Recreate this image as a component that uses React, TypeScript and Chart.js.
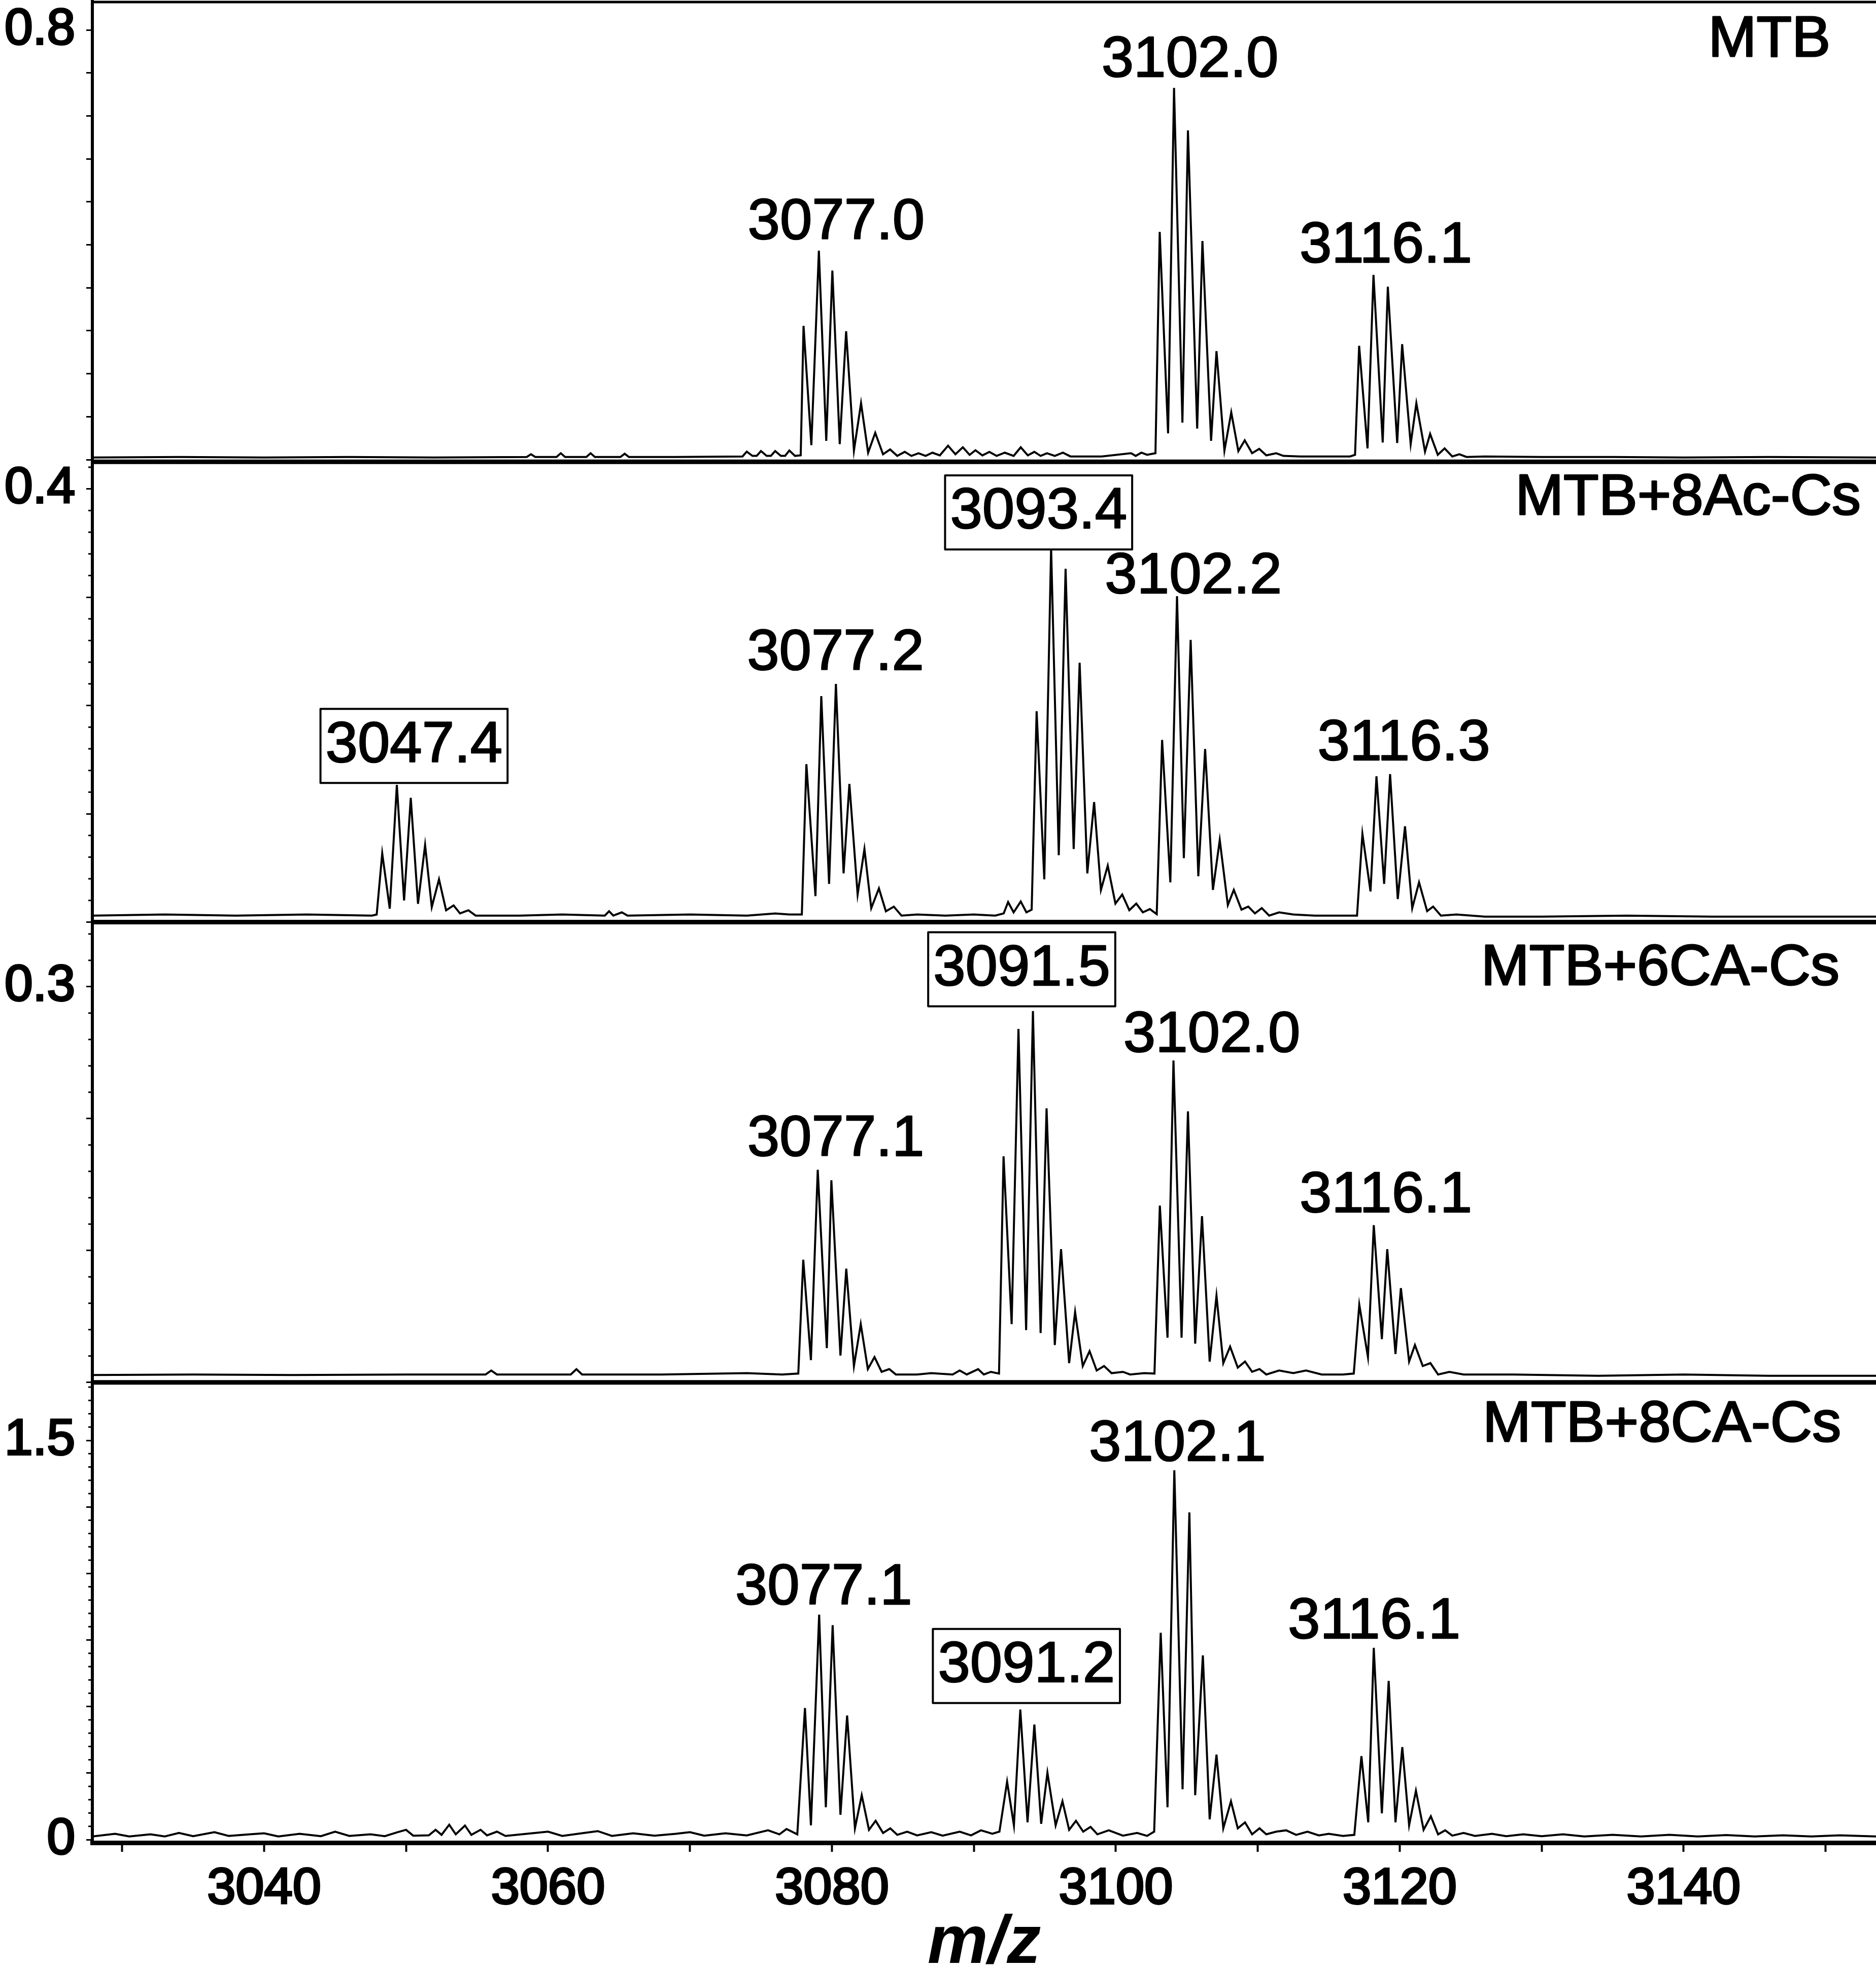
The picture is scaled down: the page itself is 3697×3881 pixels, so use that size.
import React, { useEffect, useRef } from 'react';
import { Chart, registerables } from 'chart.js';

Chart.register(...registerables);

const FONT = '"Liberation Sans", Arial, Helvetica, sans-serif';

// ---------- x axis ----------
const mzMin = 3027.9;
const mzMax = 3153.55;
const xTickValues = [3030, 3040, 3050, 3060, 3070, 3080, 3090, 3100, 3110, 3120, 3130, 3140, 3150];
const xTickLabeled = [3040, 3060, 3080, 3100, 3120, 3140];

// ---------- panel names ----------
const panelNames = ['MTB', 'MTB+8Ac-Cs', 'MTB+6CA-Cs', 'MTB+8CA-Cs'];
const panelNameMz = [3150.34, 3152.48, 3150.98, 3151.09];
const panelNameIntensity = [0.781, 0.391, 0.3134, 1.557];

// ---------- y axes (one per panel) ----------
const yMin = [-0.004, 0, 0, -0.0114];
const yMax = [0.8529, 0.425, 0.349, 1.7178];
const yMajorTicks1 = [0, 0.08, 0.16, 0.24, 0.32, 0.4, 0.48, 0.56, 0.64, 0.72, 0.8];
const yMinorTicks1: number[] = [];
const yLabeled1 = [0.8];
const yMajorTicks2 = [0, 0.1, 0.2, 0.3, 0.4];
const yMinorTicks2 = [0.02, 0.04, 0.06, 0.08, 0.12, 0.14, 0.16, 0.18, 0.22, 0.24, 0.26, 0.28, 0.32, 0.34, 0.36, 0.38, 0.42];
const yLabeled2 = [0.4];
const yMajorTicks3 = [0, 0.1, 0.2, 0.3];
const yMinorTicks3 = [0.02, 0.04, 0.06, 0.08, 0.12, 0.14, 0.16, 0.18, 0.22, 0.24, 0.26, 0.28, 0.32, 0.34];
const yLabeled3 = [0.3];
const yMajorTicks4 = [0, 0.25, 0.5, 0.75, 1.0, 1.25, 1.5];
const yMinorTicks4 = [0.05, 0.1, 0.15, 0.2, 0.3, 0.35, 0.4, 0.45, 0.55, 0.6, 0.65, 0.7, 0.8, 0.85, 0.9, 0.95, 1.05, 1.1, 1.15, 1.2, 1.3, 1.35, 1.4, 1.45, 1.55, 1.6, 1.65, 1.7];
const yLabeled4 = [1.5, 0];

// ---------- spectra: [m/z, intensity] ----------
const mtbSpectrum: [number, number][] = [
  [3027.9, 0.004], [3034.0, 0.005], [3040.0, 0.004], [3046.0, 0.005], [3052.0, 0.004],
  [3058.5, 0.005], [3058.8, 0.010], [3059.1, 0.005], [3060.6, 0.005], [3060.9, 0.012], [3061.2, 0.005],
  [3062.7, 0.005], [3063.0, 0.012], [3063.3, 0.005], [3065.1, 0.005], [3065.4, 0.011], [3065.7, 0.005],
  [3069.0, 0.005], [3073.7, 0.006], [3074.0, 0.015], [3074.4, 0.007], [3074.7, 0.007], [3075.0, 0.016],
  [3075.4, 0.007], [3075.7, 0.007], [3076.0, 0.016], [3076.4, 0.007], [3076.7, 0.007], [3077.0, 0.017],
  [3077.4, 0.007], [3077.8, 0.008],
  [3078.0, 0.249], [3078.55, 0.027], [3079.08, 0.389], [3079.6, 0.035], [3080.03, 0.352], [3080.55, 0.029],
  [3081.0, 0.239], [3081.55, 0.017], [3082.05, 0.105], [3082.55, 0.013], [3083.05, 0.050], [3083.6, 0.010],
  [3084.1, 0.019], [3084.6, 0.007],
  [3085.13, 0.0145], [3085.6, 0.007], [3086.1, 0.012], [3086.6, 0.007], [3087.08, 0.013], [3087.6, 0.008],
  [3088.18, 0.026], [3088.7, 0.010], [3089.22, 0.023], [3089.7, 0.009], [3090.11, 0.0175], [3090.6, 0.008],
  [3091.09, 0.0145], [3091.6, 0.007], [3092.18, 0.013], [3092.8, 0.007], [3093.3, 0.023], [3093.8, 0.008],
  [3094.26, 0.0145], [3094.7, 0.007], [3095.15, 0.012], [3095.7, 0.007], [3096.27, 0.013], [3096.8, 0.006],
  [3099.0, 0.006], [3101.07, 0.012], [3101.4, 0.007], [3101.8, 0.013], [3102.2, 0.009], [3102.79, 0.012],
  [3103.09, 0.424], [3103.68, 0.049], [3104.1, 0.692], [3104.69, 0.069], [3105.08, 0.613], [3105.73, 0.058],
  [3106.1, 0.407], [3106.71, 0.035], [3107.09, 0.202], [3107.65, 0.017], [3108.13, 0.088], [3108.63, 0.016],
  [3109.08, 0.036], [3109.6, 0.012], [3110.1, 0.020], [3110.6, 0.008],
  [3111.3, 0.012], [3111.8, 0.007], [3113.0, 0.006], [3115.0, 0.006], [3116.5, 0.006], [3116.85, 0.009],
  [3117.14, 0.212], [3117.73, 0.021], [3118.15, 0.344], [3118.8, 0.032], [3119.16, 0.322], [3119.82, 0.031],
  [3120.17, 0.215], [3120.77, 0.029], [3121.17, 0.105], [3121.78, 0.015], [3122.14, 0.048], [3122.68, 0.009],
  [3123.16, 0.021], [3123.7, 0.006], [3124.2, 0.010], [3124.7, 0.005], [3126.0, 0.006], [3130.0, 0.005],
  [3135.0, 0.005], [3140.0, 0.004], [3146.0, 0.005], [3153.6, 0.004],
];

const ac8Spectrum: [number, number][] = [
  [3027.9, 0.006], [3033.0, 0.007], [3038.0, 0.006], [3043.0, 0.007], [3047.6, 0.006], [3047.93, 0.007],
  [3048.32, 0.0635], [3048.85, 0.0124], [3049.35, 0.1267], [3049.86, 0.020], [3050.33, 0.1147], [3050.84, 0.0169],
  [3051.34, 0.0711], [3051.81, 0.0139], [3052.32, 0.0395], [3052.82, 0.0109], [3053.35, 0.0154], [3053.8, 0.008],
  [3054.39, 0.0109], [3054.9, 0.006],
  [3058.0, 0.006], [3061.0, 0.007], [3064.0, 0.006], [3064.3, 0.010], [3064.6, 0.006], [3065.2, 0.009],
  [3065.6, 0.006], [3070.0, 0.007], [3074.0, 0.006], [3076.0, 0.008], [3077.0, 0.007], [3077.88, 0.007],
  [3078.2, 0.1458], [3078.84, 0.024], [3079.25, 0.2087], [3079.8, 0.0353], [3080.28, 0.2199], [3080.82, 0.045],
  [3081.23, 0.1276], [3081.81, 0.0255], [3082.29, 0.0675], [3082.77, 0.0129], [3083.31, 0.0311], [3083.8, 0.010],
  [3084.36, 0.0143], [3084.9, 0.006],
  [3086.0, 0.007], [3088.0, 0.006], [3090.0, 0.007], [3091.5, 0.006], [3092.1, 0.008], [3092.41, 0.0185],
  [3092.8, 0.009], [3093.3, 0.019], [3093.7, 0.009], [3094.07, 0.0115],
  [3094.42, 0.1947], [3094.96, 0.0395], [3095.44, 0.3458], [3095.98, 0.0618], [3096.46, 0.3262], [3097.03, 0.0675],
  [3097.45, 0.2395], [3097.99, 0.045], [3098.47, 0.1108], [3098.95, 0.0297], [3099.43, 0.0521], [3099.97, 0.0171],
  [3100.45, 0.0255], [3100.95, 0.011], [3101.44, 0.0171], [3101.9, 0.009], [3102.4, 0.012], [3102.88, 0.0073],
  [3103.26, 0.1682], [3103.84, 0.0367], [3104.31, 0.301], [3104.79, 0.059], [3105.27, 0.2605], [3105.81, 0.0423],
  [3106.29, 0.1598], [3106.84, 0.0297], [3107.32, 0.0758], [3107.89, 0.0157], [3108.31, 0.0297], [3108.85, 0.0115],
  [3109.33, 0.0143], [3109.8, 0.008], [3110.28, 0.0129], [3110.8, 0.006],
  [3111.5, 0.009], [3112.5, 0.007], [3114.0, 0.006], [3116.0, 0.006], [3116.99, 0.006],
  [3117.37, 0.0814], [3117.94, 0.0283], [3118.36, 0.1346], [3118.9, 0.0353], [3119.32, 0.1366], [3119.86, 0.0213],
  [3120.37, 0.0884], [3120.88, 0.0129], [3121.36, 0.0367], [3121.93, 0.0101], [3122.35, 0.0143], [3122.9, 0.006],
  [3124.0, 0.007], [3126.0, 0.005], [3130.0, 0.005], [3136.0, 0.006], [3142.0, 0.005], [3148.0, 0.005], [3153.6, 0.005],
];

const ca6Spectrum: [number, number][] = [
  [3027.9, 0.0056], [3035.0, 0.006], [3042.0, 0.0056], [3050.0, 0.006], [3055.6, 0.006], [3056.0, 0.009],
  [3056.4, 0.006], [3061.6, 0.006], [3062.0, 0.010], [3062.4, 0.006], [3068.0, 0.006], [3074.0, 0.007],
  [3076.5, 0.006], [3077.63, 0.0067],
  [3077.98, 0.093], [3078.52, 0.0169], [3079.0, 0.1612], [3079.64, 0.026], [3079.96, 0.1533], [3080.6, 0.0203],
  [3081.01, 0.0862], [3081.55, 0.0124], [3082.03, 0.0442], [3082.53, 0.0101], [3083.0, 0.0192], [3083.5, 0.008],
  [3084.04, 0.0101], [3084.5, 0.006],
  [3086.0, 0.006], [3087.0, 0.007], [3088.5, 0.006], [3089.0, 0.009], [3089.5, 0.006], [3090.3, 0.010],
  [3090.7, 0.006], [3091.2, 0.008], [3091.77, 0.0067],
  [3092.09, 0.1714], [3092.66, 0.0442], [3093.14, 0.268], [3093.68, 0.0396], [3094.16, 0.2816], [3094.7, 0.0374],
  [3095.12, 0.2078], [3095.7, 0.0283], [3096.14, 0.101], [3096.71, 0.0146], [3097.13, 0.0533], [3097.67, 0.0124],
  [3098.15, 0.0237], [3098.65, 0.009], [3099.17, 0.0124], [3099.7, 0.007], [3100.5, 0.008], [3101.0, 0.006],
  [3102.0, 0.007], [3102.72, 0.0067],
  [3103.1, 0.134], [3103.64, 0.0339], [3104.06, 0.2441], [3104.63, 0.0339], [3105.08, 0.2055], [3105.59, 0.0294],
  [3106.07, 0.126], [3106.61, 0.0158], [3107.09, 0.0657], [3107.57, 0.0146], [3108.05, 0.0271], [3108.59, 0.0112],
  [3109.1, 0.0158], [3109.6, 0.008], [3110.12, 0.0101], [3110.6, 0.006],
  [3111.5, 0.009], [3112.5, 0.007], [3113.4, 0.009], [3114.5, 0.006], [3116.0, 0.006], [3116.76, 0.0067],
  [3117.15, 0.0589], [3117.76, 0.0192], [3118.17, 0.1192], [3118.74, 0.0328], [3119.12, 0.101], [3119.7, 0.0215],
  [3120.08, 0.0715], [3120.66, 0.0158], [3121.07, 0.0283], [3121.62, 0.0124], [3122.16, 0.0146], [3122.7, 0.006],
  [3123.5, 0.008], [3124.5, 0.006], [3128.0, 0.006], [3134.0, 0.005], [3140.0, 0.006], [3146.0, 0.005], [3153.6, 0.005],
];

const ca8Spectrum: [number, number][] = [
  [3027.9, 0.012], [3029.5, 0.022], [3030.5, 0.012], [3032.0, 0.02], [3033.0, 0.012], [3034.0, 0.025],
  [3035.0, 0.013], [3036.5, 0.028], [3037.5, 0.014], [3039.0, 0.02], [3040.0, 0.024], [3041.0, 0.012],
  [3042.5, 0.022], [3044.0, 0.013], [3045.0, 0.03], [3046.0, 0.014], [3047.5, 0.02], [3048.5, 0.013],
  [3049.4, 0.028], [3050.0, 0.037], [3050.5, 0.015], [3051.6, 0.016],
  [3052.08, 0.037], [3052.5, 0.018], [3053.04, 0.056], [3053.5, 0.02], [3054.15, 0.053], [3054.6, 0.018],
  [3055.25, 0.037], [3055.7, 0.016], [3056.4, 0.03], [3057.0, 0.014], [3058.5, 0.022], [3060.0, 0.03],
  [3061.0, 0.014], [3062.5, 0.025], [3063.5, 0.032], [3064.5, 0.014], [3066.0, 0.024], [3067.5, 0.015],
  [3069.0, 0.022], [3070.0, 0.028], [3071.0, 0.015], [3072.5, 0.024], [3074.0, 0.016], [3075.5, 0.035],
  [3076.3, 0.02], [3076.8, 0.04], [3077.56, 0.0198],
  [3078.1, 0.4946], [3078.52, 0.0537], [3079.1, 0.845], [3079.57, 0.1216], [3080.05, 0.8055], [3080.6, 0.0934],
  [3081.07, 0.4664], [3081.62, 0.0425], [3082.1, 0.1668], [3082.61, 0.0368], [3083.08, 0.0707], [3083.6, 0.025],
  [3084.11, 0.0425], [3084.6, 0.018],
  [3085.3, 0.03], [3086.0, 0.016], [3087.0, 0.028], [3087.8, 0.015], [3089.0, 0.03], [3089.8, 0.016],
  [3090.5, 0.035], [3091.3, 0.022], [3091.8, 0.03],
  [3092.34, 0.2177], [3092.82, 0.0537], [3093.27, 0.4889], [3093.78, 0.065], [3094.26, 0.4325], [3094.74, 0.0594],
  [3095.18, 0.2516], [3095.76, 0.0537], [3096.24, 0.1441], [3096.71, 0.0368], [3097.19, 0.0707], [3097.7, 0.03],
  [3098.22, 0.048], [3098.7, 0.02], [3099.5, 0.035], [3100.5, 0.015], [3101.5, 0.025], [3102.2, 0.014], [3102.7, 0.03],
  [3103.16, 0.7772], [3103.64, 0.1216], [3104.12, 1.3877], [3104.7, 0.1894], [3105.18, 1.2293], [3105.59, 0.1668],
  [3106.13, 0.6924], [3106.61, 0.0762], [3107.09, 0.3194], [3107.57, 0.0425], [3108.11, 0.1441], [3108.59, 0.0425],
  [3109.1, 0.065], [3109.6, 0.02], [3110.12, 0.0425], [3110.6, 0.02],
  [3111.3, 0.03], [3112.0, 0.035], [3112.7, 0.018], [3113.5, 0.03], [3114.3, 0.016], [3115.0, 0.022],
  [3116.0, 0.014], [3116.8, 0.018],
  [3117.3, 0.3137], [3117.78, 0.065], [3118.17, 0.7206], [3118.74, 0.0989], [3119.22, 0.5963], [3119.7, 0.065],
  [3120.18, 0.3476], [3120.66, 0.0537], [3121.14, 0.1837], [3121.68, 0.0368], [3122.19, 0.0877], [3122.7, 0.02],
  [3123.2, 0.035], [3123.7, 0.015], [3124.5, 0.025], [3125.3, 0.014], [3126.5, 0.022], [3127.5, 0.013],
  [3128.7, 0.02], [3130.0, 0.013], [3131.5, 0.02], [3133.0, 0.012], [3135.0, 0.018], [3137.0, 0.012],
  [3139.0, 0.018], [3141.0, 0.012], [3143.0, 0.017], [3145.0, 0.012], [3147.0, 0.016], [3149.0, 0.012],
  [3151.0, 0.016], [3153.6, 0.012],
];

// ---------- peak labels: [text, m/z anchor, intensity anchor, boxed] ----------
type PeakLabel = [string, number, number, boolean];
const mtbLabels: PeakLabel[] = [
  ['3077.0', 3080.3, 0.4406, false],
  ['3102.0', 3105.22, 0.7424, false],
  ['3116.1', 3119.02, 0.3967, false],
];
const ac8Labels: PeakLabel[] = [
  ['3047.4', 3050.56, 0.1627, true],
  ['3077.2', 3080.25, 0.2478, false],
  ['3093.4', 3094.56, 0.3783, true],
  ['3102.2', 3105.46, 0.3185, false],
  ['3116.3', 3120.29, 0.1646, false],
];
const ca6Labels: PeakLabel[] = [
  ['3077.1', 3080.27, 0.1839, false],
  ['3091.5', 3093.37, 0.3132, true],
  ['3102.0', 3106.76, 0.2628, false],
  ['3116.1', 3119.02, 0.1414, false],
];
const ca8Labels: PeakLabel[] = [
  ['3077.1', 3079.42, 0.944, false],
  ['3091.2', 3093.7, 0.6524, true],
  ['3102.1', 3104.34, 1.4836, false],
  ['3116.1', 3118.2, 0.8167, false],
];

const spectra = [mtbSpectrum, ac8Spectrum, ca6Spectrum, ca8Spectrum];
const peakLabels = [mtbLabels, ac8Labels, ca6Labels, ca8Labels];
const majorTicks = [yMajorTicks1, yMajorTicks2, yMajorTicks3, yMajorTicks4];
const minorTicks = [yMinorTicks1, yMinorTicks2, yMinorTicks3, yMinorTicks4];
const labeledTicks = [yLabeled1, yLabeled2, yLabeled3, yLabeled4];
const yIds = ['y1', 'y2', 'y3', 'y4'];

const decorPlugin = {
  id: 'spectraDecor',
  afterDraw(chart: any) {
    const ctx = chart.ctx as CanvasRenderingContext2D;
    const area = chart.chartArea;
    const xs = chart.scales.x;
    ctx.save();
    // minor y ticks
    ctx.strokeStyle = '#000';
    ctx.lineWidth = 3;
    yIds.forEach((id, i) => {
      const ys = chart.scales[id];
      minorTicks[i].forEach((v) => {
        const y = ys.getPixelForValue(v);
        ctx.beginPath();
        ctx.moveTo(area.left - 8, y);
        ctx.lineTo(area.left, y);
        ctx.stroke();
      });
    });
    // top frame line
    ctx.lineWidth = 5;
    ctx.beginPath();
    ctx.moveTo(area.left, area.top + 1);
    ctx.lineTo(area.right, area.top + 1);
    ctx.stroke();
    // panel dividers
    ctx.lineWidth = 9;
    ['y1', 'y2', 'y3'].forEach((id) => {
      const s = chart.scales[id];
      ctx.beginPath();
      ctx.moveTo(area.left, s.bottom);
      ctx.lineTo(area.right, s.bottom);
      ctx.stroke();
    });
    // peak labels
    ctx.textAlign = 'center';
    ctx.textBaseline = 'middle';
    ctx.font = `114px ${FONT}`;
    ctx.lineJoin = 'round';
    yIds.forEach((id, i) => {
      const ys = chart.scales[id];
      peakLabels[i].forEach(([text, mz, val, boxed]) => {
        const x = xs.getPixelForValue(mz);
        const y = ys.getPixelForValue(val);
        if (boxed) {
          const w = ctx.measureText(text).width;
          ctx.fillStyle = '#fff';
          ctx.fillRect(x - w / 2 - 10, y - 73, w + 20, 146);
          ctx.lineWidth = 4;
          ctx.strokeStyle = '#000';
          ctx.strokeRect(x - w / 2 - 10, y - 73, w + 20, 146);
        }
        ctx.fillStyle = '#000';
        ctx.strokeStyle = '#000';
        ctx.lineWidth = 2.5;
        ctx.fillText(text, x, y);
        ctx.strokeText(text, x, y);
      });
    });
    // panel names
    ctx.textAlign = 'right';
    yIds.forEach((id, i) => {
      const ys = chart.scales[id];
      const x = xs.getPixelForValue(panelNameMz[i]);
      const y = ys.getPixelForValue(panelNameIntensity[i]);
      ctx.fillStyle = '#000';
      ctx.strokeStyle = '#000';
      ctx.lineWidth = 3;
      ctx.fillText(panelNames[i], x, y);
      ctx.strokeText(panelNames[i], x, y);
    });
    ctx.restore();
  },
};

function zeroPadding(scale: any) {
  scale.paddingTop = 0;
  scale.paddingBottom = 0;
  scale.paddingLeft = 0;
  scale.paddingRight = 0;
}

export default function App() {
  const ref = useRef<HTMLCanvasElement>(null);

  useEffect(() => {
    if (!ref.current) return;
    Chart.defaults.font.family = FONT;

    const yScales: any = {};
    yIds.forEach((id, i) => {
      const labeled = labeledTicks[i];
      yScales[id] = {
        type: 'linear',
        position: 'left',
        stack: 'panels',
        stackWeight: 1,
        weight: 4 - i,
        min: yMin[i],
        max: yMax[i],
        border: { display: true, color: '#000', width: 6 },
        grid: { display: true, drawOnChartArea: false, drawTicks: true, tickLength: 12, tickWidth: 3, tickColor: '#000' },
        ticks: {
          autoSkip: false,
          padding: 22,
          color: '#000',
          textStrokeColor: '#000',
          textStrokeWidth: 4,
          font: { family: FONT, size: 100, weight: 'normal', lineHeight: 1.2 },
          callback: (v: number) => (labeled.some((l) => Math.abs(l - v) < 1e-9) ? String(v) : ''),
        },
        afterBuildTicks: (s: any) => {
          s.ticks = majorTicks[i].map((v) => ({ value: v }));
        },
        afterFit: (s: any) => {
          s.width = 182;
          zeroPadding(s);
        },
      };
    });

    const chart = new Chart(ref.current, {
      type: 'line',
      data: {
        datasets: spectra.map((sp, i) => ({
          data: sp.map(([x, y]) => ({ x, y })),
          yAxisID: yIds[i],
          xAxisID: 'x',
          borderColor: '#000',
          borderWidth: 4,
          pointRadius: 0,
          tension: 0,
          fill: false,
        })),
      },
      options: {
        responsive: false,
        animation: false,
        devicePixelRatio: 1,
        events: [],
        layout: { padding: { top: 3, left: 0, right: 0, bottom: 0 } },
        plugins: { legend: { display: false }, tooltip: { enabled: false }, title: { display: false } },
        scales: {
          x: {
            type: 'linear',
            position: 'bottom',
            min: mzMin,
            max: mzMax,
            border: { display: true, color: '#000', width: 9 },
            grid: { display: true, drawOnChartArea: false, drawTicks: true, tickLength: 18, tickWidth: 4, tickColor: '#000' },
            ticks: {
              autoSkip: false,
              maxRotation: 0,
              minRotation: 0,
              padding: 14,
              color: '#000',
              textStrokeColor: '#000',
              textStrokeWidth: 4,
              font: { family: FONT, size: 101, weight: 'normal', lineHeight: 1.2 },
              callback: (v: number) => (xTickLabeled.includes(v) ? String(v) : ''),
            },
            title: {
              display: true,
              text: 'm/z',
              color: '#000',
              font: { family: FONT, size: 134, weight: 'bold', style: 'italic', lineHeight: 1 },
              padding: { top: 0, bottom: -18 },
            },
            afterBuildTicks: (s: any) => {
              s.ticks = xTickValues.map((v) => ({ value: v }));
            },
            afterFit: (s: any) => {
              s.height = 249;
              zeroPadding(s);
            },
          },
          ...yScales,
        },
      } as any,
      plugins: [decorPlugin],
    });

    return () => chart.destroy();
  }, []);

  return (
    <div style={{ position: 'absolute', left: 0, top: 0, width: 3697, height: 3881, background: '#fff', overflow: 'hidden' }}>
      <canvas ref={ref} width={3697} height={3881} style={{ display: 'block', width: 3697, height: 3881 }} />
    </div>
  );
}
